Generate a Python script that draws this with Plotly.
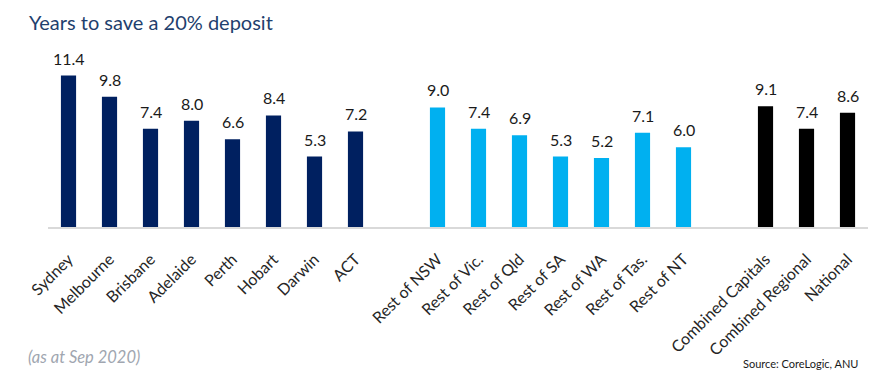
import plotly.graph_objects as go

capitals = ["Sydney", "Melbourne", "Brisbane", "Adelaide", "Perth", "Hobart", "Darwin", "ACT"]
capitals_vals = [11.4, 9.8, 7.4, 8.0, 6.6, 8.4, 5.3, 7.2]

regions = ["Rest of NSW", "Rest of Vic.", "Rest of Qld", "Rest of SA", "Rest of WA", "Rest of Tas.", "Rest of NT"]
regions_vals = [9.0, 7.4, 6.9, 5.3, 5.2, 7.1, 6.0]

combined = ["Combined Capitals", "Combined Regional", "National"]
combined_vals = [9.1, 7.4, 8.6]

groups = [
    (capitals, capitals_vals, "#002060"),
    (regions, regions_vals, "#00B0F0"),
    (combined, combined_vals, "#000000"),
]

FONT = "Lato, 'Open Sans', sans-serif"
L, R, T, B = 48, 12, 61, 161
W, H = 880, 388
plot_w = W - L - R
plot_h = H - T - B

def px_to_paper(xp, yp):
    return (xp - L) / plot_w, (H - B - yp) / plot_h

fig = go.Figure()
tickvals, ticktext = [], []
pos = 0
annotations = []
for labels, vals, color in groups:
    xs = list(range(pos, pos + len(labels)))
    fig.add_trace(go.Bar(x=xs, y=vals, marker=dict(color=color, line=dict(width=0)),
                         width=0.37, showlegend=False, hoverinfo="skip"))
    for x, v in zip(xs, vals):
        annotations.append(dict(x=x, y=v, text=f"{v:.1f}", showarrow=False, xref="x", yref="y",
                                yanchor="bottom", yshift=6,
                                font=dict(family=FONT, size=16, color="#1a1a1a")))
    tickvals += xs
    ticktext += labels
    pos += len(labels) + 1

tx, ty = px_to_paper(27, 22)
annotations.append(dict(text="Years to save a 20% deposit", x=tx, y=ty, xref="paper", yref="paper",
                        showarrow=False, xanchor="left", yanchor="middle",
                        font=dict(family=FONT, size=20, color="#1F3F6E")))
fx, fy = px_to_paper(26, 357)
annotations.append(dict(text="<i>(as at Sep 2020)</i>", x=fx, y=fy, xref="paper", yref="paper",
                        showarrow=False, xanchor="left", yanchor="middle",
                        font=dict(family=FONT, size=16.5, color="#A0A6B0")))
sx, sy = px_to_paper(860, 363)
annotations.append(dict(text="Source: CoreLogic, ANU", x=sx, y=sy, xref="paper", yref="paper",
                        showarrow=False, xanchor="right", yanchor="middle",
                        font=dict(family=FONT, size=11, color="#1a1a1a")))

fig.update_layout(
    width=W, height=H,
    margin=dict(l=L, r=R, t=T, b=B, autoexpand=False),
    paper_bgcolor="white", plot_bgcolor="white",
    xaxis=dict(range=[-0.5, pos - 1.5], tickvals=tickvals, ticktext=ticktext, tickangle=-45,
               automargin=False,
               showgrid=False, zeroline=False, showline=True, linecolor="#D9D9D9", linewidth=1.5,
               ticks="outside", ticklen=15, tickcolor="rgba(0,0,0,0)",
               tickfont=dict(family=FONT, size=16, color="#262626")),
    yaxis=dict(range=[0, 12.5], visible=False, showgrid=False, zeroline=False, automargin=False),
    annotations=annotations,
)
fig.write_html("out.html", config={"displayModeBar": False},
               post_script="document.body.style.margin='0';document.body.style.overflow='hidden';")
